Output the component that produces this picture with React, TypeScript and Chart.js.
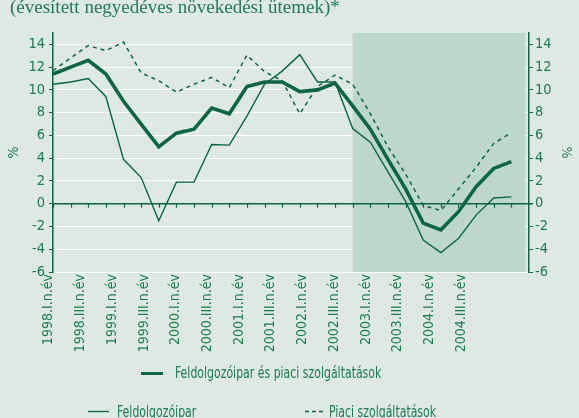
import React, { useEffect, useRef } from "react";
import { Chart, registerables } from "chart.js";

Chart.register(...registerables);

// ---- data ----
const CATEGORIES = [
  "1998.I.n.év", "1998.II.n.év", "1998.III.n.év", "1998.IV.n.év",
  "1999.I.n.év", "1999.II.n.év", "1999.III.n.év", "1999.IV.n.év",
  "2000.I.n.év", "2000.II.n.év", "2000.III.n.év", "2000.IV.n.év",
  "2001.I.n.év", "2001.II.n.év", "2001.III.n.év", "2001.IV.n.év",
  "2002.I.n.év", "2002.II.n.év", "2002.III.n.év", "2002.IV.n.év",
  "2003.I.n.év", "2003.II.n.év", "2003.III.n.év", "2003.IV.n.év",
  "2004.I.n.év", "2004.II.n.év", "2004.III.n.év", "2004.IV.n.év",
];

const TICK_LABELS = [
  "1998.I.n.év", "1998.III.n.év", "1999.I.n.év", "1999.III.n.év",
  "2000.I.n.év", "2000.III.n.év", "2001.I.n.év", "2001.III.n.év",
  "2002.I.n.év", "2002.III.n.év", "2003.I.n.év", "2003.III.n.év",
  "2004.I.n.év", "2004.III.n.év",
];

const TOTAL = [
  11.4, 12.0, 12.6, 11.4, 9.0, 7.0, 5.0, 6.2, 6.55, 8.4, 7.9, 10.3, 10.7, 10.7,
  9.85, 10.0, 10.6, 8.6, 6.55, 3.9, 1.3, -1.7, -2.3, -0.7, 1.5, 3.1, 3.7,
];
const MANUF = [
  10.5, 10.7, 11.0, 9.4, 3.9, 2.3, -1.5, 1.9, 1.9, 5.2, 5.15, 7.7, 10.5, 11.65,
  13.1, 10.7, 10.7, 6.6, 5.4, 2.8, 0.2, -3.2, -4.3, -3.05, -1.0, 0.5, 0.6,
];
const SERV = [
  11.7, 12.8, 13.9, 13.45, 14.2, 11.5, 10.8, 9.8, 10.5, 11.1, 10.2, 13.05, 11.6,
  10.8, 7.9, 10.3, 11.3, 10.5, 7.9, 5.0, 2.6, -0.15, -0.6, 1.3, 3.2, 5.3, 6.25,
];

const Y_TICKS = [-6, -4, -2, 0, 2, 4, 6, 8, 10, 12, 14];
const SHADE_FROM = "2002.II.n.év";

const TITLE = "(évesített negyedéves növekedési ütemek)*";
const LEGEND_TOTAL = "Feldolgozóipar és piaci szolgáltatások";
const LEGEND_MANUF = "Feldolgozóipar";
const LEGEND_SERV = "Piaci szolgáltatások";

// ---- styles ----
const BG = "#dde9e2";
const SHADE = "#bdd7c9";
const LINE = "#0b6641";
const TEXT = "#1b7b51";
const TICK_FONT = "'DejaVu Sans Condensed', 'DejaVu Sans', sans-serif";
const LEGEND_FONT = "'DejaVu Sans Condensed', 'DejaVu Sans', sans-serif";

const shadePlugin = {
  id: "shadeZero",
  beforeDatasetsDraw(chart: any) {
    const { ctx, chartArea, scales } = chart;
    const x = scales.x;
    const y = scales.y;
    const x0 = x.getPixelForValue(CATEGORIES.indexOf(SHADE_FROM));
    ctx.save();
    ctx.fillStyle = SHADE;
    ctx.fillRect(x0, chartArea.top, chartArea.right - 3.5 - x0, chartArea.bottom - chartArea.top);
    const y0 = y.getPixelForValue(0);
    ctx.strokeStyle = LINE;
    ctx.lineWidth = 1.5;
    ctx.beginPath();
    ctx.moveTo(chartArea.left, y0);
    ctx.lineTo(chartArea.right + 4, y0);
    ctx.stroke();
    ctx.lineWidth = 1.2;
    for (let i = 0; i < TOTAL.length; i++) {
      const px = Math.round(x.getPixelForValue(i)) + 0.5;
      ctx.beginPath();
      ctx.moveTo(px, y0);
      ctx.lineTo(px, y0 + 4);
      ctx.stroke();
    }
    ctx.restore();
  },
};

function App() {
  const ref = useRef<HTMLCanvasElement>(null);

  useEffect(() => {
    if (!ref.current) return;
    const yTicksCb = (scale: any) => {
      scale.ticks = Y_TICKS.map((v) => ({ value: v }));
    };
    const chart = new Chart(ref.current, {
      type: "line",
      data: {
        labels: CATEGORIES,
        datasets: [
          {
            label: LEGEND_TOTAL,
            data: TOTAL,
            borderColor: LINE,
            borderWidth: 3.6,
            pointRadius: 0,
            tension: 0,
            order: 0,
          },
          {
            label: LEGEND_MANUF,
            data: MANUF,
            borderColor: LINE,
            borderWidth: 1.4,
            pointRadius: 0,
            tension: 0,
            order: 1,
          },
          {
            label: LEGEND_SERV,
            data: SERV,
            borderColor: LINE,
            borderWidth: 1.5,
            borderDash: [4, 4],
            pointRadius: 0,
            tension: 0,
            order: 2,
          },
        ],
      },
      options: {
        animation: false,
        responsive: false,
        devicePixelRatio: 1,
        layout: { padding: { top: 33, left: 0, right: 0, bottom: 0 } },
        plugins: { legend: { display: false }, tooltip: { enabled: false }, title: { display: false } },
        scales: {
          x: {
            type: "category",
            display: false,
            offset: false,
            min: 0,
            max: CATEGORIES.length - 1,
          },
          xl: {
            type: "linear",
            position: "bottom",
            min: 0.136,
            max: 15.14,
            afterBuildTicks: (scale: any) => {
              scale.ticks = TICK_LABELS.map((_, i) => ({ value: i }));
            },
            afterFit: (scale: any) => {
              scale.height = 146;
            },
            grid: { display: false, drawTicks: false },
            border: { display: false },
            ticks: {
              autoSkip: false,
              minRotation: 90,
              maxRotation: 90,
              padding: 2,
              color: TEXT,
              font: { family: TICK_FONT, size: 14 },
              callback: (v: any) => TICK_LABELS[v] ?? "",
            },
          },
          y: {
            type: "linear",
            position: "left",
            min: -6,
            max: 15,
            afterBuildTicks: yTicksCb,
            afterFit: (scale: any) => {
              scale.width = 53;
            },
            grid: {
              color: (c: any) => (c.tick && c.tick.value === 0 ? "rgba(0,0,0,0)" : "#ffffff"),
              lineWidth: 1,
              tickColor: LINE,
              tickLength: 4,
            },
            border: { display: true, color: LINE, width: 1.5 },
            ticks: {
              color: TEXT,
              padding: 4,
              font: { family: TICK_FONT, size: 14.5 },
            },
            title: {
              display: true,
              text: "%",
              color: TEXT,
              padding: { top: 6, bottom: 0 },
              font: { family: TICK_FONT, size: 14 },
            },
          },
          y2: {
            type: "linear",
            position: "right",
            min: -6,
            max: 15,
            afterBuildTicks: yTicksCb,
            afterFit: (scale: any) => {
              scale.width = 50;
            },
            grid: { drawOnChartArea: false, tickColor: LINE, tickLength: 4 },
            border: { display: true, color: LINE, width: 1.5 },
            ticks: {
              color: TEXT,
              padding: 2,
              font: { family: TICK_FONT, size: 14.5 },
            },
            title: {
              display: true,
              text: "%",
              color: TEXT,
              padding: { top: 5, bottom: 0 },
              font: { family: TICK_FONT, size: 14 },
            },
          },
        },
      },
      plugins: [shadePlugin],
    } as any);
    return () => chart.destroy();
  }, []);

  const legendText: React.CSSProperties = {
    position: "absolute",
    fontFamily: LEGEND_FONT,
    fontSize: 15,
    lineHeight: "15px",
    color: TEXT,
    whiteSpace: "nowrap",
    transform: "scaleX(0.81)",
    transformOrigin: "0 0",
  };

  return (
    <div
      style={{
        position: "absolute",
        left: 0,
        top: 0,
        width: 579,
        height: 418,
        background: BG,
        overflow: "hidden",
      }}
    >
      <canvas ref={ref} width={579} height={418} style={{ position: "absolute", left: 0, top: 0 }} />
      <div
        style={{
          position: "absolute",
          left: 10,
          top: -3,
          fontFamily: "'Liberation Serif', 'Times New Roman', serif",
          fontSize: 19,
          lineHeight: "19px",
          color: "#23795a",
          whiteSpace: "nowrap",
        }}
      >
        {TITLE}
      </div>
      <svg width={579} height={418} style={{ position: "absolute", left: 0, top: 0 }}>
        <line x1={141} y1={373.5} x2={163} y2={373.5} stroke={LINE} strokeWidth={3} />
        <line x1={88} y1={411.5} x2={109} y2={411.5} stroke={LINE} strokeWidth={1.3} />
        <line x1={305} y1={411.5} x2={323} y2={411.5} stroke={LINE} strokeWidth={1.5} strokeDasharray="4 3" />
      </svg>
      <div style={{ ...legendText, left: 175, top: 365.5 }}>{LEGEND_TOTAL}</div>
      <div style={{ ...legendText, left: 117, top: 405 }}>{LEGEND_MANUF}</div>
      <div style={{ ...legendText, left: 328.5, top: 405 }}>{LEGEND_SERV}</div>
    </div>
  );
}

export default App;
